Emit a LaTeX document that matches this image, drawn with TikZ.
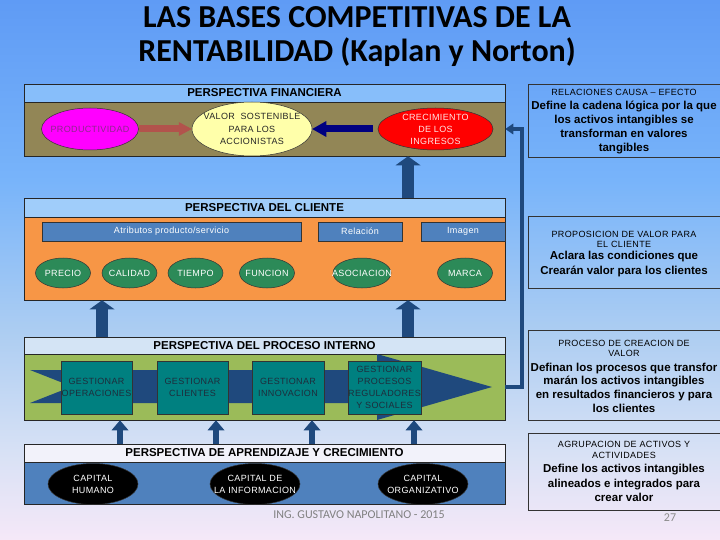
\documentclass[tikz,border=0pt]{standalone}
\usepackage{fontspec}
\setmainfont{Liberation Sans}
\newfontfamily\titlefont{Carlito}
\newfontfamily\spc[LetterSpace=4]{Liberation Sans}
\usetikzlibrary{shapes.geometric,arrows.meta,calc}
\definecolor{bgA}{RGB}{95,155,245}
\definecolor{bgB}{RGB}{120,180,250}
\definecolor{bgC}{RGB}{172,205,242}
\definecolor{bgD}{RGB}{215,225,245}
\definecolor{bgE}{RGB}{245,232,248}
\definecolor{finH}{RGB}{135,190,250}
\definecolor{finB}{RGB}{146,134,86}
\definecolor{cliH}{RGB}{160,205,250}
\definecolor{cliB}{RGB}{247,150,70}
\definecolor{proH}{RGB}{212,228,245}
\definecolor{proB}{RGB}{155,187,89}
\definecolor{lrnH}{RGB}{242,242,250}
\definecolor{lrnB}{RGB}{79,129,189}
\definecolor{navyB}{RGB}{31,73,125}
\definecolor{navyD}{RGB}{0,0,128}
\definecolor{brickR}{RGB}{178,83,76}
\definecolor{tealC}{RGB}{0,128,128}
\definecolor{grnE}{RGB}{44,138,88}
\definecolor{magE}{RGB}{255,0,255}
\definecolor{magT}{RGB}{140,40,140}
\definecolor{yelE}{RGB}{255,255,170}
\definecolor{barC}{RGB}{79,129,189}
\definecolor{darkT}{RGB}{30,45,60}
\begin{document}
\begin{tikzpicture}[x=1pt,y=-1pt,
  hdr/.style={draw=black!85, line width=0.6pt, minimum width=481pt, inner sep=0pt, font=\bfseries\fontsize{11.5}{13}\selectfont, text=black},
  bodybox/.style={draw=black!85, line width=0.6pt, minimum width=481pt, inner sep=0pt},
  sm/.style={font=\spc\fontsize{9}{12}\selectfont, align=center, inner sep=0pt},
  ell/.style={ellipse, draw=black!80, line width=0.5pt, inner sep=0pt},
  barbox/.style={draw=black!80, line width=0.6pt, fill=barC, minimum height=19pt, inner sep=0pt, text=white, font=\spc\fontsize{9}{12}\selectfont},
  tealbox/.style={draw=black!80, line width=0.6pt, fill=tealC, minimum width=71pt, minimum height=53pt, inner sep=0pt},
  rbox/.style={draw=black!80, line width=0.7pt, minimum width=194pt, inner sep=0pt},
  rsmall/.style={font=\spc\fontsize{9}{10.5}\selectfont, align=center, inner sep=0pt},
  rbold/.style={font=\bfseries\fontsize{11.5}{14}\selectfont, align=center, inner sep=0pt},
  bigup/.style={draw=navyB, line width=12pt, -{Triangle[width=25pt,length=9pt,line width=0pt]}},
  smallup/.style={draw=navyB, line width=6pt, -{Triangle[width=17pt,length=10pt,line width=0pt]}},
  conn/.style={draw=navyB, line width=4pt, -{Triangle[width=11pt,length=8pt,line width=0pt]}}
]
\useasboundingbox (0,0) rectangle (720,540);
% background
\fill[top color=bgA, bottom color=bgB] (0,0) rectangle (720,181);
\fill[top color=bgB, bottom color=bgC] (0,180) rectangle (720,331);
\fill[top color=bgC, bottom color=bgD] (0,330) rectangle (720,451);
\fill[top color=bgD, bottom color=bgE] (0,450) rectangle (720,540);
% title
\node[font=\titlefont\bfseries\fontsize{32}{34}\selectfont, align=center, inner sep=0pt] (title) at (357,37) {LAS BASES COMPETITIVAS DE LA\\RENTABILIDAD (Kaplan y Norton)};

% ---- financial
\node[hdr, fill=finH, minimum height=18pt] (finHd) at (264.5,93) {PERSPECTIVA FINANCIERA};
\node[bodybox, fill=finB, minimum height=54pt] (fin) at (264.5,129) {};
\node[ell, fill=magE, minimum width=97pt, minimum height=42pt] (prod) at (90,129) {};
\node[sm, text=magT] (prodT) at (prod) {PRODUCTIVIDAD};
\node[ell, fill=yelE, minimum width=120pt, minimum height=54pt] (valor) at (252,129) {};
\node[sm, text=black!85, font=\spc\fontsize{9}{12.5}\selectfont] (valorT) at (valor) {VALOR\ \ SOSTENIBLE\\PARA LOS\\ACCIONISTAS};
\node[ell, fill=red, minimum width=115pt, minimum height=42pt] (crec) at (435.5,129) {};
\node[sm, text=white!90!red] (crecT) at (crec) {CRECIMIENTO\\DE LOS\\INGRESOS};
\draw[draw=brickR, line width=7pt, -{Triangle[width=14pt,length=13pt,line width=0pt]}] (prod.east) -- (valor.west);
\draw[draw=navyD, line width=7pt, -{Triangle[width=16pt,length=14pt,line width=0pt]}] ([xshift=-5pt]crec.west) -- (valor.east);

% ---- client
\node[hdr, fill=cliH, minimum height=19pt] (cliHd) at (264.5,207.5) {PERSPECTIVA DEL CLIENTE};
\node[bodybox, fill=cliB, minimum height=83pt] (cli) at (264.5,258.5) {};
\node[barbox, minimum width=259pt] (atrib) at (171.5,231.5) {Atributos producto/servicio};
\node[barbox, minimum width=84pt] (rel) at (360,231.5) {Relación};
\node[barbox, minimum width=84pt] (img) at (463,231.5) {Imagen};
\foreach \nm/\x/\w/\t in {precio/63/55/PRECIO, calidad/129.5/55/CALIDAD, tiempo/195.5/55/TIEMPO, funcion/267/55/FUNCION, asoc/362/58/ASOCIACION, marca/465/55/MARCA}{
  \node[ell, fill=grnE, minimum width=\w pt, minimum height=30pt] (\nm) at (\x,273) {};
  \node[sm, text=white] (\nm T) at (\nm) {\t};
}

% ---- internal process
\node[hdr, fill=proH, minimum height=17pt] (proHd) at (264.5,345.5) {PERSPECTIVA DEL PROCESO INTERNO};
\node[bodybox, fill=proB, minimum height=66pt] (pro) at (264.5,387) {};
\fill[navyB] (30,370) -- (377,370) -- (377,354) -- (492,387) -- (377,420) -- (377,403) -- (30,403) -- (72,386.5) -- cycle;
\coordinate (ptip) at (492,387);
\node[tealbox] (g1) at (96.5,387.5) {};
\node[sm, text=darkT, font=\spc\fontsize{9}{11.5}\selectfont] (g1T) at (g1) {GESTIONAR\\OPERACIONES};
\node[tealbox] (g2) at (192.5,387.5) {};
\node[sm, text=darkT, font=\spc\fontsize{9}{11.5}\selectfont] (g2T) at (g2) {GESTIONAR\\CLIENTES};
\node[tealbox, minimum width=72pt] (g3) at (288,387.5) {};
\node[sm, text=darkT, font=\spc\fontsize{9}{11.5}\selectfont] (g3T) at (g3) {GESTIONAR\\INNOVACION};
\node[tealbox, minimum width=73pt] (g4) at (384.5,387.5) {};
\node[sm, text=darkT, font=\spc\fontsize{9}{12}\selectfont] (g4T) at (g4) {GESTIONAR\\PROCESOS\\REGULADORES\\Y SOCIALES};

% ---- learning
\node[hdr, fill=lrnH, minimum height=18pt] (lrnHd) at (264.5,453) {PERSPECTIVA DE APRENDIZAJE Y CRECIMIENTO};
\node[bodybox, fill=lrnB, minimum height=42pt] (lrn) at (264.5,483) {};
\foreach \nm/\x/\t in {chum/93/{CAPITAL\\HUMANO}, cinf/255/{CAPITAL DE\\LA INFORMACION}, corg/423/{CAPITAL\\ORGANIZATIVO}}{
  \node[ell, fill=black, minimum width=90pt, minimum height=41pt] (\nm) at (\x,484) {};
  \node[sm, text=white] (\nm T) at (\nm) {\t};
}

% ---- arrows between perspectives
\coordinate (ax1) at (408,0);
\coordinate (ax2) at (102,0);
\draw[bigup] (cliHd.north -| ax1) -- (fin.south -| ax1);
\draw[bigup] (proHd.north -| ax2) -- (cli.south -| ax2);
\draw[bigup] (proHd.north -| ax1) -- (cli.south -| ax1);
\foreach \bx in {120,216,312,414}{
  \coordinate (bx) at (\bx,0);
  \draw[smallup] (lrnHd.north -| bx) -- (pro.south -| bx);
}

% ---- feedback connector
\coordinate (vx) at (522,0);
\draw[conn] (ptip -| pro.east) -- (ptip -| vx) |- (crec -| fin.east);

% ---- right boxes
\node[rbox, minimum height=73pt] (r1) at (625,120.5) {};
\node[rsmall] (r1t) at (624,92) {RELACIONES CAUSA – EFECTO};
\node[rbold] (r1b) at (624,127.5) {Define la cadena lógica por la que\\los activos intangibles se\\transforman en valores\\tangibles};
\node[rbox, minimum height=72pt] (r2) at (625,252) {};
\node[rsmall] (r2t) at (624,239.5) {PROPOSICION DE VALOR PARA\\EL CLIENTE};
\node[rbold, font=\bfseries\fontsize{11.5}{15}\selectfont] (r2b) at (624,264) {Aclara las condiciones que\\Crearán valor para los clientes};
\node[rbox, minimum height=90pt] (r3) at (625,375) {};
\node[rsmall] (r3t) at (624,348.5) {PROCESO DE CREACION DE\\VALOR};
\node[rbold, font=\bfseries\fontsize{11.5}{13.7}\selectfont] (r3b) at (624,387.5) {Definan los procesos que transfor\\marán los activos intangibles\\en resultados financieros y para\\los clientes};
\node[rbox, minimum height=77pt] (r4) at (625,471.5) {};
\node[rsmall, font=\spc\fontsize{9}{11}\selectfont] (r4t) at (624,450) {AGRUPACION DE ACTIVOS Y\\ACTIVIDADES};
\node[rbold, font=\bfseries\fontsize{11.5}{14.5}\selectfont] (r4b) at (624,483) {Define los activos intangibles\\alineados e integrados para\\crear valor};

% ---- footer
\node[font=\titlefont\fontsize{12}{14}\selectfont, text=black!50, inner sep=0pt] (foot) at (359,515) {ING. GUSTAVO NAPOLITANO - 2015};
\node[font=\titlefont\fontsize{12}{14}\selectfont, text=black!45, inner sep=0pt] (pg) at (670,518) {27};
\end{tikzpicture}
\end{document}
